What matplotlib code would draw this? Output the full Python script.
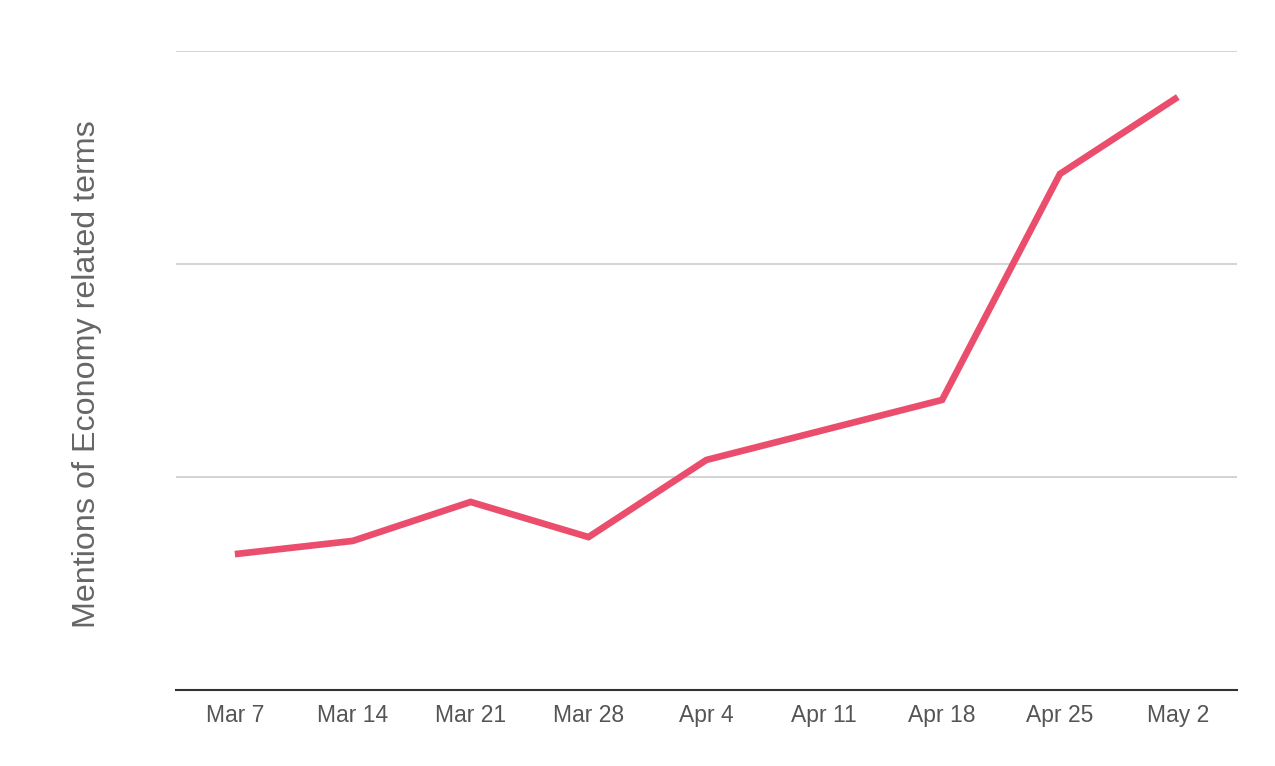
import matplotlib.pyplot as plt

# weekly mentions (arbitrary units, gridlines at 1, 2, 3)
weeks = ["Mar 7", "Mar 14", "Mar 21", "Mar 28", "Apr 4", "Apr 11", "Apr 18", "Apr 25", "May 2"]
mentions = [0.638, 0.700, 0.883, 0.718, 1.080, 1.221, 1.362, 2.423, 2.784]

plt.rcParams["font.family"] = ["Liberation Sans", "DejaVu Sans"]

fig = plt.figure(figsize=(12.75, 7.66), dpi=100)
ax = fig.add_axes([0.138, 0.0992, 0.832, 0.8342])

x = list(range(len(weeks)))
ax.plot(x, mentions, color="#EB4D6D", linewidth=4.8, solid_capstyle="butt", solid_joinstyle="miter", zorder=3)

ax.set_xlim(-0.5, len(weeks) - 0.5)
ax.set_ylim(0, 3)
ax.set_yticks([1, 2, 3])
ax.set_yticklabels([])
ax.yaxis.grid(True, color="#CCCCCC", linewidth=1.2)
ax.tick_params(axis="y", length=0)

ax.set_xticks(x)
ax.set_xticklabels(weeks, fontsize=16.5, color="#555555")
ax.tick_params(axis="x", length=0, pad=10)

for side in ["top", "right", "left"]:
    ax.spines[side].set_visible(False)
ax.spines["bottom"].set_color("#333333")
ax.spines["bottom"].set_linewidth(1.5)

fig.text(0.068, 0.511, "Mentions of Economy related terms", rotation=90,
         fontsize=23.2, color="#666666", ha="center", va="center")

fig.savefig("out.png", dpi=100)
